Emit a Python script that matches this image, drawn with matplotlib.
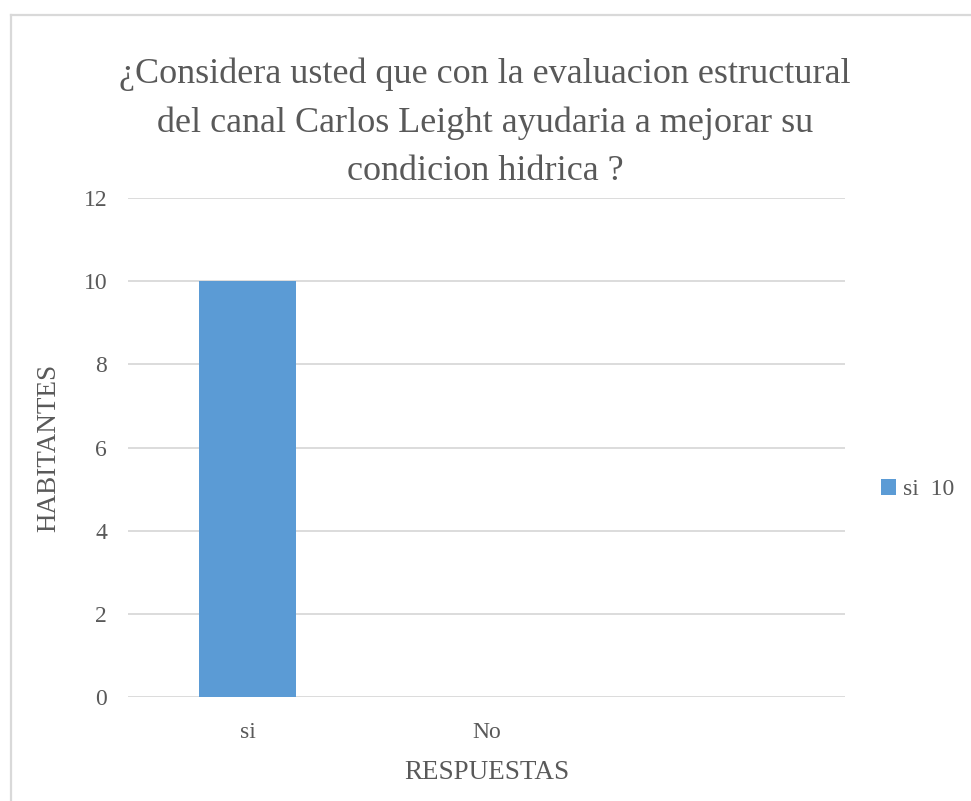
import matplotlib
matplotlib.use('Agg')
import matplotlib.pyplot as plt
from matplotlib.lines import Line2D
import numpy as np

# data
categorias = ['si', 'No', '']
habitantes = [10, 0, 0]
serie = 'si  10'
y_ticks = [0, 2, 4, 6, 8, 10, 12]

titulo = '¿Considera usted que con la evaluacion estructural\ndel canal Carlos Leight ayudaria a mejorar su\ncondicion hidrica ?'

plt.rcParams['font.family'] = ['Liberation Serif', 'DejaVu Serif']
gris = '#595959'
rejilla = '#d9d9d9'

fig = plt.figure(figsize=(9.71, 8.01), dpi=100)
ax = fig.add_axes([0.1318, 0.1298, 0.7384, 0.6230])

x = np.arange(len(categorias))
ax.bar(x, habitantes, width=0.406, color='#5b9bd5', label=serie, zorder=3)

ax.set_xlim(-0.5, len(categorias) - 0.5)
ax.set_ylim(0, 12)
ax.set_yticks(y_ticks)
ax.set_xticks(x)
ax.set_xticklabels(categorias)

# gridlines like excel
ax.grid(axis='y', color=rejilla, linewidth=1.3, zorder=0)
for s in ax.spines.values():
    s.set_visible(False)
ax.tick_params(axis='both', length=0, labelsize=17, labelcolor=gris)
ax.tick_params(axis='y', pad=15)
ax.tick_params(axis='x', pad=18)

ax.set_xlabel('RESPUESTAS', fontsize=19.5, color=gris, labelpad=12)
ax.set_ylabel('HABITANTES', fontsize=19.5, color=gris, labelpad=16)

fig.text(0.4995, 1 - 123 / 801, titulo, ha='center', va='center', fontsize=26,
         color=gris, linespacing=1.6)

leg = ax.legend(loc='center left', bbox_to_anchor=(1.02, 0.416), frameon=False,
                fontsize=17, handlelength=0.65, handleheight=0.65,
                handletextpad=0.3, labelcolor=gris)

# outer frame of the chart
fig.add_artist(Line2D([10.5 / 971, 1.0], [1 - 15 / 801, 1 - 15 / 801],
                      color=rejilla, linewidth=1.6, transform=fig.transFigure))
fig.add_artist(Line2D([10.5 / 971, 10.5 / 971], [0.0, 1 - 15 / 801],
                      color=rejilla, linewidth=1.6, transform=fig.transFigure))

fig.savefig('out.png', dpi=100)
